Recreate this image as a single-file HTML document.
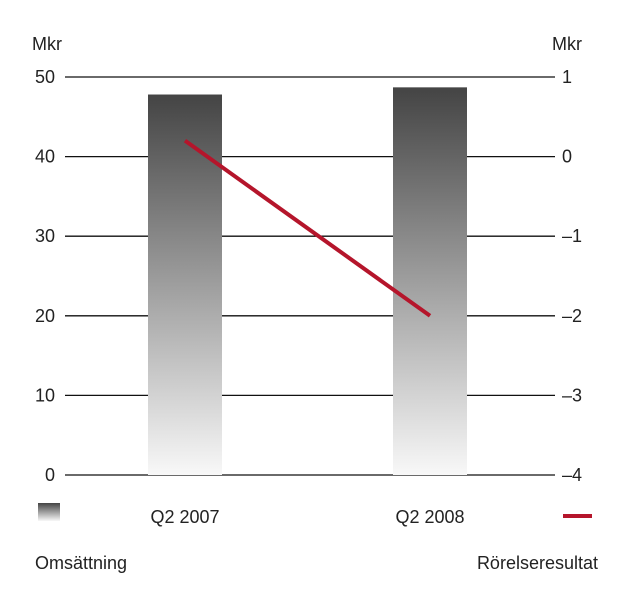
<!DOCTYPE html>
<html><head><meta charset="utf-8">
<style>
body{margin:0;background:#fff;}
svg text{font-family:"Liberation Sans",sans-serif;fill:#222;}
</style></head>
<body>
<svg width="637" height="610" viewBox="0 0 637 610">
<defs>
<linearGradient id="bg" x1="0" y1="0" x2="0" y2="1">
<stop offset="0" stop-color="#444"/>
<stop offset="1" stop-color="#f8f8f8"/>
</linearGradient>
</defs>
<g id="grid"></g>
<g id="bars"></g>
<g id="line"></g>
<text x="32" y="50" font-size="18">Mkr</text>
<text x="552" y="50" font-size="18">Mkr</text>
<rect x="38" y="503" width="22" height="18" fill="url(#bg)"/>
<line x1="563" y1="516" x2="592" y2="516" stroke="#b5152b" stroke-width="4"/>
<text x="35" y="569" font-size="18">Omsättning</text>
<text x="598" y="569" font-size="18" text-anchor="end">Rörelseresultat</text>
</svg>
<script>
const categories=["Q2 2007","Q2 2008"];
const revenue=[47.8,48.7];
const result=[0.2,-2.0];
const leftTicks=[0,10,20,30,40,50];
const rightTicks=[1,0,-1,-2,-3,-4];
const NS="http://www.w3.org/2000/svg";
const y0=475,y1=77;
function yL(v){return y0-(v/50)*(y0-y1);}
function yR(v){return y0-((v+4)/5)*(y0-y1);}
const xCenters=[185,430];
function xC(i){return xCenters[0]+i*(xCenters[1]-xCenters[0]);}
function mk(tag,attrs,parent){const e=document.createElementNS(NS,tag);for(const k in attrs)e.setAttribute(k,attrs[k]);parent.appendChild(e);return e;}
const grid=document.getElementById('grid');
leftTicks.forEach((t,i)=>{
  const y=yL(t);
  const l=mk('line',{x1:65,y1:y,x2:555,y2:y,stroke:'#111','stroke-width':1.3},grid);
  
  
  const tx=mk('text',{x:55,y:y+6,'font-size':18,'text-anchor':'end'},grid);
  tx.textContent=t;
  
  
});
rightTicks.forEach(t=>{
  const y=yR(t);
  const tx=mk('text',{x:562,y:y+6,'font-size':18},grid);
  tx.textContent=t<0?'\u2013'+Math.abs(t):t;
  
  
});
const bars=document.getElementById('bars');
revenue.forEach((v,i)=>{
  const r=mk('rect',{x:xC(i)-37,y:yL(v),width:74,height:yL(0)-yL(v),fill:'url(#bg)'},bars);
  
  
  const tx=mk('text',{x:xC(i),y:523,'font-size':18,'text-anchor':'middle'},bars);
  tx.textContent=categories[i];
  
  
});
const pl=mk('polyline',{points:result.map((v,i)=>xC(i)+','+yR(v)).join(' '),fill:'none',stroke:'#b5152b','stroke-width':4},document.getElementById('line'));


</script>
</body></html>
